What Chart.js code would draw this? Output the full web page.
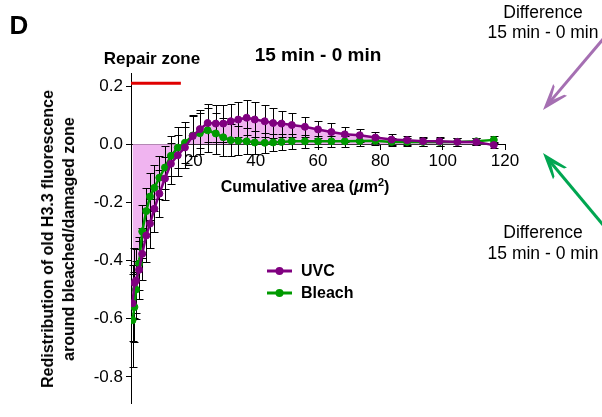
<!DOCTYPE html>
<html>
<head>
<meta charset="utf-8">
<script src="https://cdn.jsdelivr.net/npm/chart.js@4.4.1/dist/chart.umd.min.js"></script>
<style>
  body { margin: 0; background: #fff; }
  #wrap { position: relative; width: 602px; height: 417px; font-family: 'Liberation Sans', Arial, sans-serif; color: #000; }
  canvas { position: absolute; left: 0; top: 0; }
  .t { position: absolute; transform: translate(-50%, -50%); white-space: nowrap; text-align: center; }
  .b { font-weight: bold; }
</style>
</head>
<body>
<div id="wrap">
  <canvas id="c" width="602" height="417"></canvas>
  <div class="t b" style="left:19px;top:25px;font-size:26px">D</div>
  <div class="t b" style="left:152px;top:59px;font-size:17px">Repair zone</div>
  <div class="t b" style="left:318px;top:55px;font-size:19px">15 min - 0 min</div>
  <div class="t b" style="left:58px;top:239px;font-size:16px;line-height:21px;transform:translate(-50%,-50%) rotate(-90deg)">Redistribution of old H3.3 fluorescence<br>around bleached/damaged zone</div>
  <div class="t b" style="left:305px;top:187px;font-size:16px">Cumulative area (<i>μ</i>m<sup style="font-size:11px;line-height:0">2</sup>)</div>
  <div class="t" style="left:543px;top:22px;font-size:17.5px;line-height:20px">Difference<br>15 min - 0 min</div>
  <div class="t" style="left:543px;top:243px;font-size:17.5px;line-height:21px">Difference<br>15 min - 0 min</div>
</div>
<script>
// cumulative area (µm²) of each ring
const areaX = [0.5, 1.1, 1.6, 2.6, 3.6, 4.9, 6.1, 7.5, 9.1, 10.9,
  12.8, 15.0, 17.3, 19.8, 22.1, 24.6, 27.2, 29.6, 32.0, 34.4,
  37.1, 39.7, 42.9, 45.6, 48.3, 51.6, 55.8, 60.0, 64.3, 68.6,
  73.4, 78.4, 83.6, 88.6, 93.7, 99.0, 104.7, 110.8, 116.4];

const uvcY = [-0.547, -0.477, -0.469, -0.432, -0.377, -0.314, -0.273, -0.222, -0.17, -0.118,
  -0.067, -0.038, -0.011, 0.028, 0.052, 0.073, 0.071, 0.071, 0.079, 0.085,
  0.091, 0.085, 0.079, 0.073, 0.071, 0.066, 0.06, 0.051, 0.042, 0.034,
  0.031, 0.023, 0.016, 0.014, 0.01, 0.01, 0.008, 0.008, -0.003];
const uvcErr = [0.13, 0.12, 0.11, 0.1, 0.09, 0.09, 0.085, 0.08, 0.08, 0.075,
  0.07, 0.07, 0.07, 0.07, 0.065, 0.065, 0.065, 0.065, 0.06, 0.06,
  0.06, 0.06, 0.055, 0.05, 0.045, 0.04, 0.035, 0.03, 0.03, 0.025,
  0.022, 0.02, 0.018, 0.016, 0.015, 0.015, 0.015, 0.012, 0.01];

const bleachY = [-0.605, -0.56, -0.5, -0.41, -0.3, -0.23, -0.18, -0.15, -0.115, -0.08,
  -0.04, -0.012, 0.005, 0.03, 0.038, 0.048, 0.037, 0.024, 0.014, 0.012,
  0.01, 0.006, 0.005, 0.006, 0.008, 0.01, 0.01, 0.01, 0.01, 0.01,
  0.011, 0.012, 0.008, 0.008, 0.008, 0.008, 0.008, 0.01, 0.015];
const bleachErr = [0.16, 0.12, 0.1, 0.09, 0.09, 0.08, 0.08, 0.08, 0.075, 0.075,
  0.07, 0.07, 0.07, 0.07, 0.07, 0.075, 0.07, 0.065, 0.055, 0.05,
  0.045, 0.04, 0.035, 0.03, 0.028, 0.025, 0.022, 0.02, 0.02, 0.018,
  0.016, 0.015, 0.015, 0.015, 0.014, 0.014, 0.013, 0.012, 0.012];

const repairX = [0, 16];
const repairY = [0.21, 0.21];

const xTicks = [20, 40, 60, 80, 100, 120];
const yTicks = [-0.8, -0.6, -0.4, -0.2, 0, 0.2];
const seriesNames = ['UVC', 'Bleach'];

const PURPLE = '#800080';
const GREEN = '#009a00';
const PINK = '#f0b4f0';

Chart.defaults.font.family = "'Liberation Sans', Arial, sans-serif";
Chart.defaults.color = '#000';

const pts = (xs, ys) => xs.map((x, i) => ({ x, y: ys[i] }));

// black SEM whiskers, under the lines
const errorBars = {
  id: 'errorBars',
  beforeDatasetsDraw(chart) {
    const { ctx, scales: { x, y } } = chart;
    ctx.save();
    ctx.strokeStyle = '#000';
    ctx.lineWidth = 1;
    chart.data.datasets.forEach(ds => {
      if (!ds.errors) return;
      ds.data.forEach((p, i) => {
        const px = Math.round(x.getPixelForValue(p.x)) + 0.5;
        const top = Math.round(y.getPixelForValue(p.y + ds.errors[i])) + 0.5;
        const bot = Math.round(y.getPixelForValue(p.y - ds.errors[i])) + 0.5;
        ctx.beginPath();
        ctx.moveTo(px, top); ctx.lineTo(px, bot);
        ctx.moveTo(px - 4, top); ctx.lineTo(px + 4, top);
        ctx.moveTo(px - 4, bot); ctx.lineTo(px + 4, bot);
        ctx.stroke();
      });
    });
    ctx.restore();
  }
};

function arrow(ctx, x1, y1, x2, y2, color) {
  const a = Math.atan2(y1 - y2, x1 - x2);
  const len = 28, spread = 0.33;
  ctx.strokeStyle = color;
  ctx.fillStyle = color;
  ctx.lineWidth = 3;
  ctx.beginPath();
  ctx.moveTo(x1, y1);
  ctx.lineTo(x2 + 10 * Math.cos(a), y2 + 10 * Math.sin(a));
  ctx.stroke();
  ctx.beginPath();
  ctx.moveTo(x2, y2);
  ctx.lineTo(x2 + len * Math.cos(a - spread), y2 + len * Math.sin(a - spread));
  ctx.lineTo(x2 + len * Math.cos(a - spread) - 3 * Math.cos(a - 1.2), y2 + len * Math.sin(a - spread) - 3 * Math.sin(a - 1.2));
  ctx.lineTo(x2 + 12 * Math.cos(a), y2 + 12 * Math.sin(a));
  ctx.lineTo(x2 + len * Math.cos(a + spread) - 3 * Math.cos(a + 1.2), y2 + len * Math.sin(a + spread) - 3 * Math.sin(a + 1.2));
  ctx.lineTo(x2 + len * Math.cos(a + spread), y2 + len * Math.sin(a + spread));
  ctx.closePath();
  ctx.fill();
}

// legend inside the plot and the two annotation arrows
const overlay = {
  id: 'overlay',
  afterDraw(chart) {
    const { ctx } = chart;
    ctx.save();
    chart.data.datasets.slice(0, 2).forEach((ds, i) => {
      const yy = 271 + i * 22;
      ctx.strokeStyle = ds.borderColor;
      ctx.fillStyle = ds.borderColor;
      ctx.lineWidth = 3;
      ctx.beginPath(); ctx.moveTo(267, yy); ctx.lineTo(292, yy); ctx.stroke();
      ctx.beginPath(); ctx.arc(279.5, yy, 4, 0, Math.PI * 2); ctx.fill();
      ctx.fillStyle = '#000';
      ctx.font = "bold 16px 'Liberation Sans', Arial, sans-serif";
      ctx.textBaseline = 'middle';
      ctx.fillText(ds.label, 301, yy + 1);
    });
    arrow(ctx, 604, 38, 543, 110, '#a56fb2');
    arrow(ctx, 604, 226, 543, 153, '#00a651');
    ctx.restore();
  }
};

const axisGrid = { display: true, drawOnChartArea: false, drawTicks: true, tickLength: 5, color: '#000', lineWidth: 1 };

new Chart(document.getElementById('c'), {
  type: 'line',
  data: {
    datasets: [
      {
        label: seriesNames[0], data: pts(areaX, uvcY), errors: uvcErr,
        borderColor: PURPLE, backgroundColor: PINK,
        pointBackgroundColor: PURPLE, pointBorderColor: PURPLE,
        pointRadius: 3.5, pointBorderWidth: 1, borderWidth: 2.5, fill: 'origin'
      },
      {
        label: seriesNames[1], data: pts(areaX, bleachY), errors: bleachErr,
        borderColor: GREEN, backgroundColor: GREEN,
        pointBackgroundColor: GREEN, pointBorderColor: GREEN,
        pointRadius: 3.5, pointBorderWidth: 1, borderWidth: 2.5, fill: false
      },
      {
        label: 'Repair zone', data: pts(repairX, repairY),
        borderColor: '#e00000', borderWidth: 3, pointRadius: 0, fill: false
      }
    ]
  },
  options: {
    responsive: false,
    animation: false,
    layout: { padding: { left: 81, right: 97, top: 73, bottom: 14 } },
    plugins: {
      legend: { display: false },
      tooltip: { enabled: false },
      filler: { drawTime: 'beforeDatasetsDraw' }
    },
    scales: {
      x: {
        type: 'linear', min: 0, max: 120,
        position: { y: 0 },
        afterBuildTicks: s => { s.ticks = xTicks.map(v => ({ value: v })); },
        afterFit: s => { s.height = 0; },
        grid: axisGrid,
        border: { display: true, color: '#000', width: 1 },
        ticks: { font: { size: 17 }, padding: 2, maxRotation: 0, autoSkip: false }
      },
      y: {
        type: 'linear', min: -0.89, max: 0.245,
        afterBuildTicks: s => { s.ticks = yTicks.map(v => ({ value: v })); },
        afterFit: s => { s.width = 50; },
        grid: axisGrid,
        border: { display: true, color: '#000', width: 1 },
        ticks: { font: { size: 17 }, padding: 3, callback: v => v.toFixed(1) }
      }
    }
  },
  plugins: [errorBars, overlay]
});
</script>
</body>
</html>
